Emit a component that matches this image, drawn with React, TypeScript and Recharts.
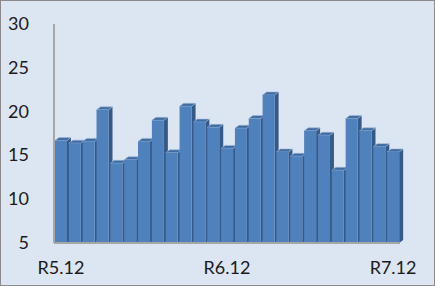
import { BarChart, Bar, XAxis, YAxis } from 'recharts';

const months = [
  'R5.12', 'R6.1', 'R6.2', 'R6.3', 'R6.4', 'R6.5', 'R6.6', 'R6.7', 'R6.8', 'R6.9', 'R6.10', 'R6.11',
  'R6.12', 'R7.1', 'R7.2', 'R7.3', 'R7.4', 'R7.5', 'R7.6', 'R7.7', 'R7.8', 'R7.9', 'R7.10', 'R7.11', 'R7.12',
];
const values = [
  16.7, 16.4, 16.6, 20.2, 14.1, 14.5, 16.6, 19.0, 15.3, 20.6, 18.8, 18.2,
  15.8, 18.1, 19.2, 21.9, 15.4, 14.9, 17.8, 17.3, 13.3, 19.2, 17.8, 16.0, 15.4,
];
const yTicks = [5, 10, 15, 20, 25, 30];

const data = months.map((m, i) => ({ month: m, value: values[i] }));

// 3D column: front face + right side + top
function Column3D(props: any) {
  const { x, y, width, height } = props;
  if (!height || height <= 0) return null;
  const d = 4;
  const r = 3;
  return (
    <g>
      <polygon
        points={`${x + width},${y} ${x + width + d},${y - r} ${x + width + d},${y + height - r} ${x + width},${y + height}`}
        fill="#365a87"
      />
      <polygon
        points={`${x},${y} ${x + d},${y - r} ${x + width + d},${y - r} ${x + width},${y}`}
        fill="#3f6ca3"
        stroke="#9fb8d8"
        strokeWidth={0.6}
      />
      <rect x={x} y={y} width={width} height={height} fill="#4f81bd" />
    </g>
  );
}

function YTick(props: any) {
  const { y, payload } = props;
  return (
    <text x={29} y={y} dy={6} textAnchor="end" fontSize={18} fill="#1a1a1a" fontFamily="Lato">
      {payload.value}
    </text>
  );
}

function XTick(props: any) {
  const { x, payload } = props;
  return (
    <text x={x} y={274} textAnchor="middle" fontSize={18} fill="#1a1a1a" fontFamily="Lato">
      {payload.value}
    </text>
  );
}

export default function App() {
  return (
    <div
      style={{
        position: 'absolute',
        left: 0,
        top: 0,
        width: 435,
        height: 286,
        background: '#dce6f2',
        border: '1px solid #8a8a8a',
        boxSizing: 'border-box',
      }}
    >
      <div style={{ position: 'absolute', left: -1, top: -1 }}>
        <BarChart
          width={435}
          height={286}
          data={data}
          margin={{ top: 24, right: 35, bottom: 13, left: 0 }}
          barCategoryGap={1}
        >
          <XAxis
            dataKey="month"
            interval={11}
            height={30}
            tickLine={false}
            axisLine={{ stroke: '#a6a6a6', strokeWidth: 2 }}
            tick={<XTick />}
          />
          <YAxis
            domain={[5, 30]}
            ticks={yTicks}
            width={54}
            allowDataOverflow
            tickLine={false}
            axisLine={{ stroke: '#a6a6a6', strokeWidth: 2 }}
            tick={<YTick />}
          />
          <Bar dataKey="value" shape={<Column3D />} isAnimationActive={false} />
        </BarChart>
      </div>
    </div>
  );
}
